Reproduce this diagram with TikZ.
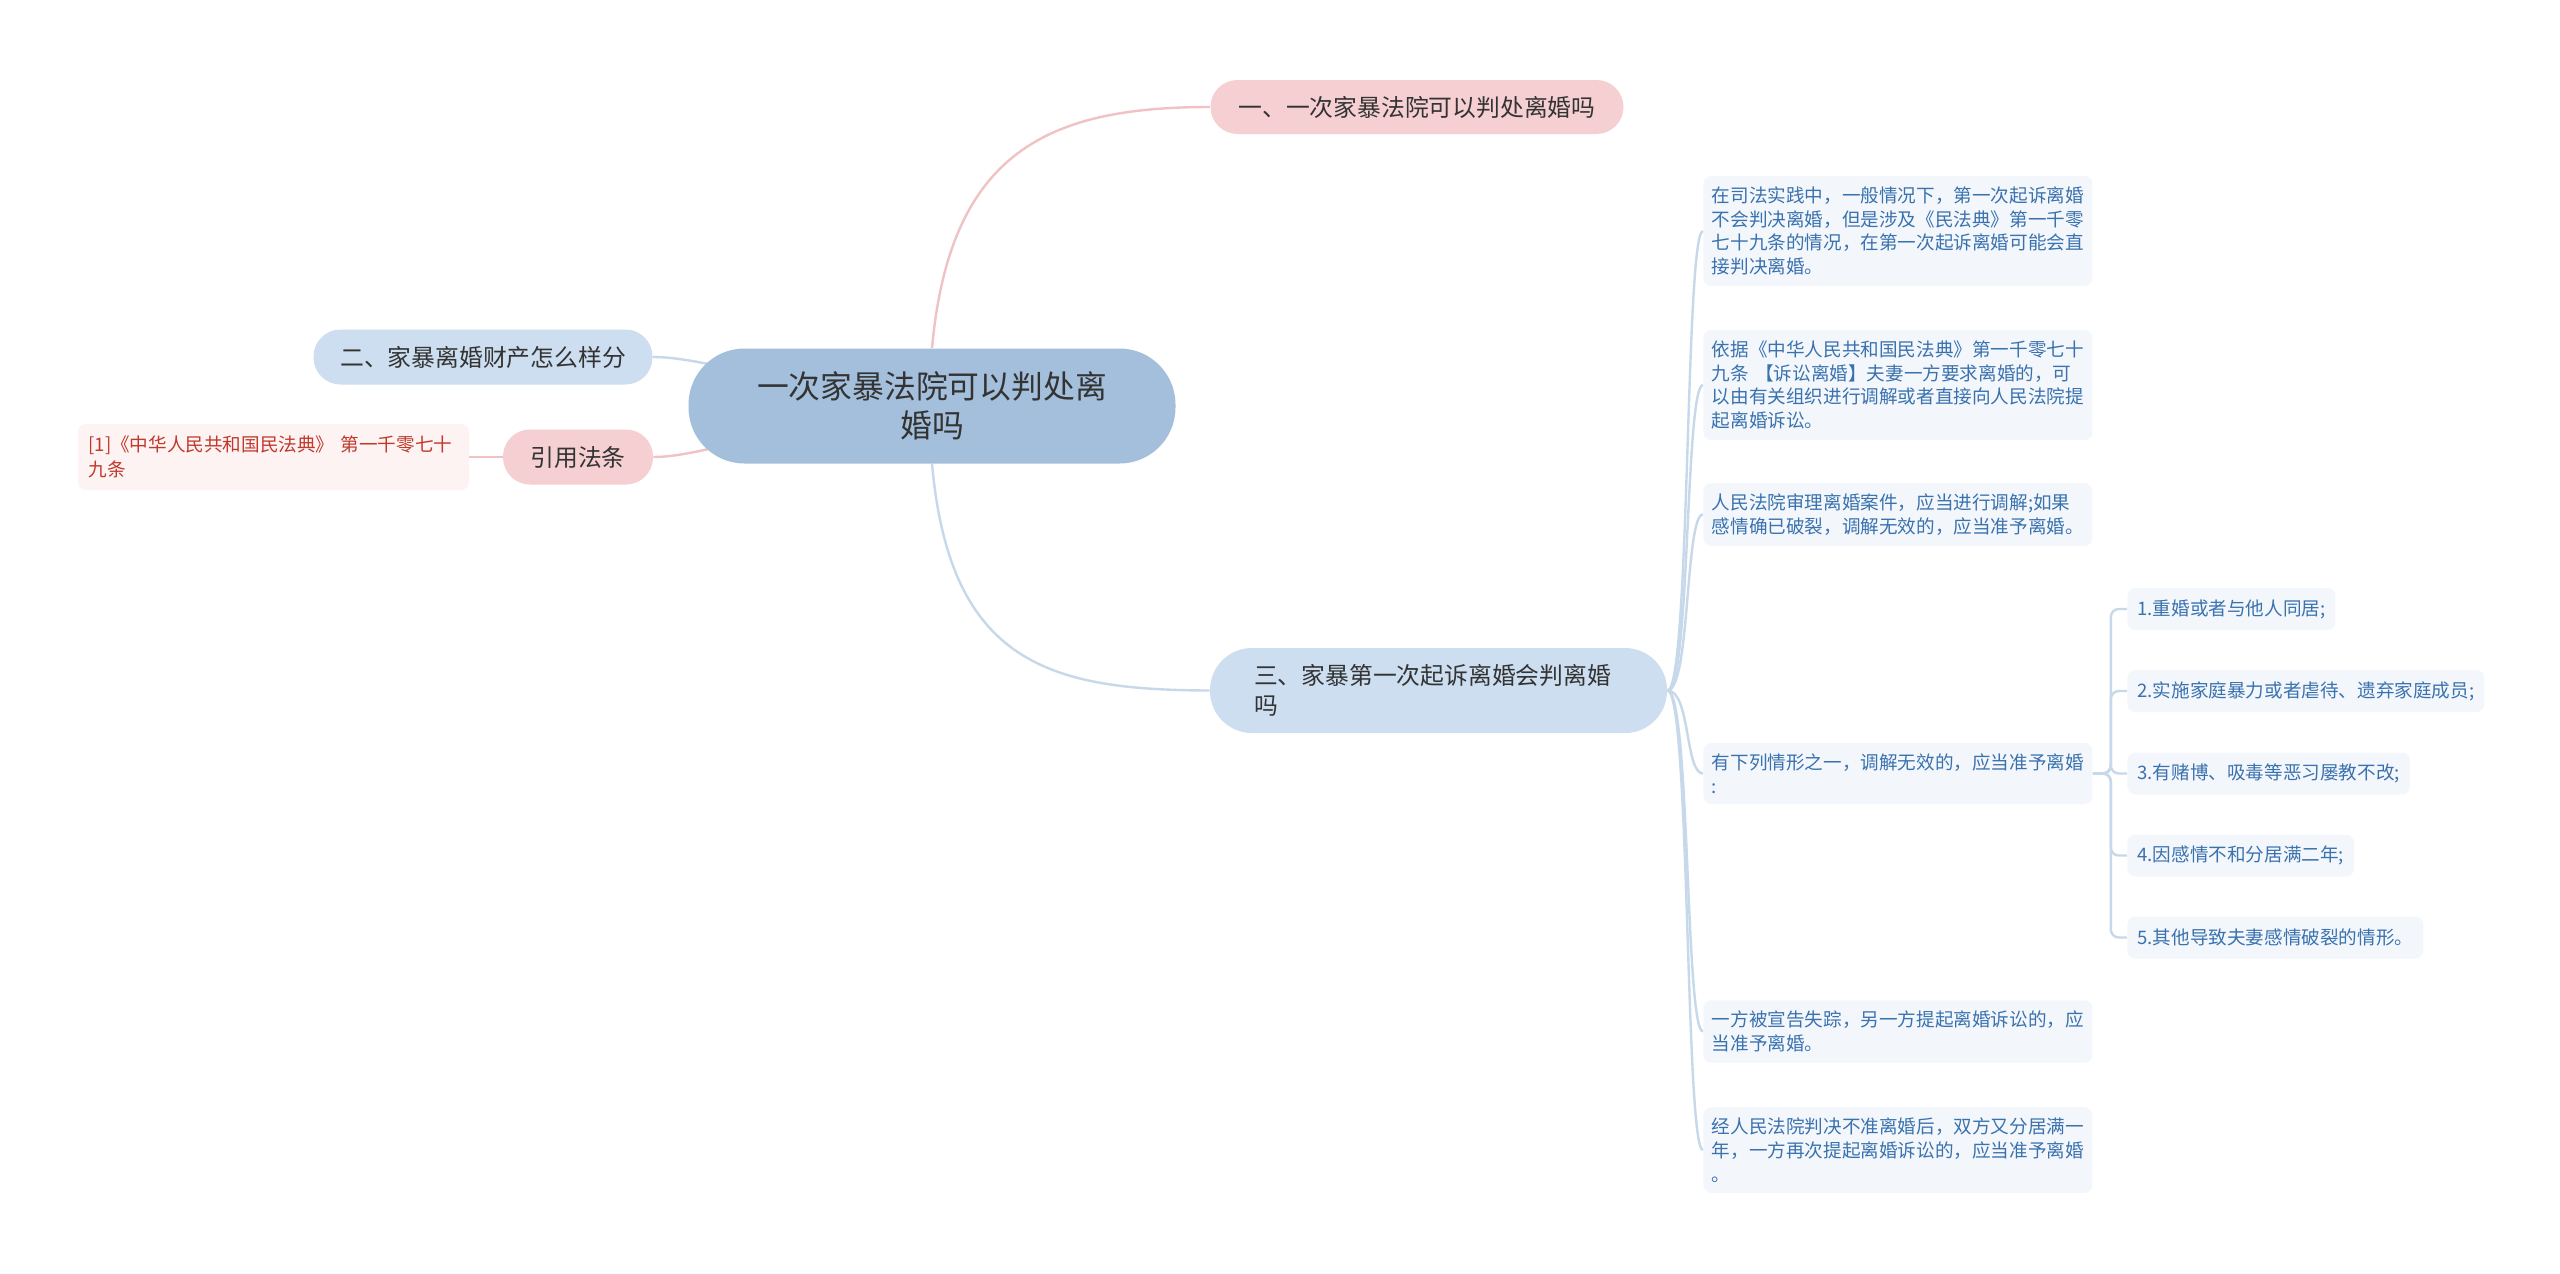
\documentclass[tikz,border=0pt]{standalone}
\usepackage{fontspec}
\setmainfont{Noto Sans CJK SC}
\usepackage{tikz}
\usetikzlibrary{backgrounds}

\definecolor{rootfill}{HTML}{A3BFDB}
\definecolor{pinkfill}{HTML}{F5CFD1}
\definecolor{bluefill}{HTML}{CCDEF0}
\definecolor{leaffill}{HTML}{F3F7FC}
\definecolor{leaftext}{HTML}{3A72AE}
\definecolor{reffill}{HTML}{FDF3F3}
\definecolor{reftext}{HTML}{C0392B}
\definecolor{pinkwire}{HTML}{F0C2C3}
\definecolor{bluewire}{HTML}{C6D8EA}
\definecolor{darktext}{HTML}{333333}

\tikzset{
  rootnode/.style={fill=rootfill, rounded corners=28pt, minimum width=243.5pt, minimum height=57.5pt,
    inner sep=0pt, align=center, text=darktext, font=\fontsize{15.9pt}{19.5pt}\selectfont},
  pill/.style={rounded corners=13.5pt, minimum height=27.5pt, inner sep=0pt, text=darktext,
    font=\fontsize{11.9pt}{15pt}\selectfont},
  leafbox/.style={anchor=west, fill=leaffill, rounded corners=4pt, text=leaftext,
    font=\fontsize{9.3pt}{11.9pt}\selectfont, text width=186pt, align=left,
    inner xsep=4.25pt, inner ysep=5.3pt},
  subleaf/.style={anchor=west, fill=leaffill, rounded corners=4pt, text=leaftext,
    font=\fontsize{9.3pt}{11.9pt}\selectfont, minimum height=21pt, inner xsep=5pt, inner ysep=0pt},
  pinkcurve/.style={draw=pinkwire, line width=1.2pt},
  bluecurve/.style={draw=bluewire, line width=1.2pt}
}

\begin{document}
\begin{tikzpicture}[x=0.5pt, y=-0.5pt]
        \useasboundingbox (0,0) rectangle (2560,1274);

        % Coordinates
        \coordinate (P) at (932,406);
        \coordinate (Q) at (1417,107);
        \coordinate (R) at (483,357);
        \coordinate (S) at (578,457);
        \coordinate (T) at (273.5,457);
        \coordinate (U) at (1438.5,690.5);
        \coordinate (LA) at (1703,231);
        \coordinate (LB) at (1703,385);
        \coordinate (LC) at (1703,514.5);
        \coordinate (LD) at (1703,773.5);
        \coordinate (LE) at (1703,1031.5);
        \coordinate (LF) at (1703,1150);
        \coordinate (SA) at (2127,609);
        \coordinate (SB) at (2127,691);
        \coordinate (SC) at (2127,773.5);
        \coordinate (SD) at (2127,855.5);
        \coordinate (SE) at (2127,937.5);

        % Nodes
        \node[rootnode] (root) at (P) {一次家暴法院可以判处离\\婚吗};
        \node[pill, fill=pinkfill, minimum width=206.5pt, minimum height=27pt] (first) at (Q) {一、一次家暴法院可以判处离婚吗};
        \node[pill, fill=bluefill, minimum width=169.5pt] (second) at (R) {二、家暴离婚财产怎么样分};
        \node[pill, fill=pinkfill, minimum width=75pt] (cite) at (S) {引用法条};
        \node[fill=reffill, rounded corners=4pt, text=reftext, font=\fontsize{9.3pt}{12.4pt}\selectfont,
          text width=185pt, align=left, inner xsep=5.25pt, minimum height=33pt] (ref) at (T)
          {[1]《中华人民共和国民法典》 第一千零七十\\九条};
        \node[pill, fill=bluefill, rounded corners=21pt, text width=184.5pt, align=left, inner xsep=22pt,
          minimum height=42.5pt] (third) at (U) {三、家暴第一次起诉离婚会判离婚\\吗};

        \node[leafbox] (la) at (LA) {在司法实践中，一般情况下，第一次起诉离婚\\不会判决离婚，但是涉及《民法典》第一千零\\七十九条的情况，在第一次起诉离婚可能会直\\接判决离婚。};
        \node[leafbox] (lb) at (LB) {依据《中华人民共和国民法典》第一千零七十\\九条 【诉讼离婚】夫妻一方要求离婚的，可\\以由有关组织进行调解或者直接向人民法院提\\起离婚诉讼。};
        \node[leafbox] (lc) at (LC) {人民法院审理离婚案件，应当进行调解;如果\\感情确已破裂，调解无效的，应当准予离婚。};
        \node[leafbox] (ld) at (LD) {有下列情形之一，调解无效的，应当准予离婚\\:};
        \node[leafbox] (le) at (LE) {一方被宣告失踪，另一方提起离婚诉讼的，应\\当准予离婚。};
        \node[leafbox] (lf) at (LF) {经人民法院判决不准离婚后，双方又分居满一\\年，一方再次提起离婚诉讼的，应当准予离婚\\。};

        \node[subleaf] (sa) at (SA) {1.重婚或者与他人同居;};
        \node[subleaf] (sb) at (SB) {2.实施家庭暴力或者虐待、遗弃家庭成员;};
        \node[subleaf] (sc) at (SC) {3.有赌博、吸毒等恶习屡教不改;};
        \node[subleaf] (sd) at (SD) {4.因感情不和分居满二年;};
        \node[subleaf] (se) at (SE) {5.其他导致夫妻感情破裂的情形。};

        % Drawing
        \begin{scope}[on background layer]
        \fill[white] (0,0) rectangle (2560,1274);
        \draw[pinkcurve] (root.north) .. controls (950,150) and (1050,107) .. (first.west);
        \draw[bluecurve] (root.south) .. controls (950,664) and (1050,690) .. (third.west);
        \draw[bluecurve] (root.center) .. controls (760,380) and (700,357) .. (second.east);
        \draw[pinkcurve] (root.center) .. controls (760,430) and (700,457) .. (cite.east);
        \draw[pinkcurve] (ref.east) -- (cite.west);
        \foreach \n in {la,lb,lc,ld,le,lf}
          \draw[bluecurve] (third.east) .. controls +(23,0) and +(-18,0) .. (\n.west);
        \foreach \n in {sa,sb,sc,sd,se}
          \draw[bluecurve, rounded corners=4pt] (ld.east) -- ++(18,0) |- (\n.west);
        \end{scope}
\end{tikzpicture}
\end{document}
